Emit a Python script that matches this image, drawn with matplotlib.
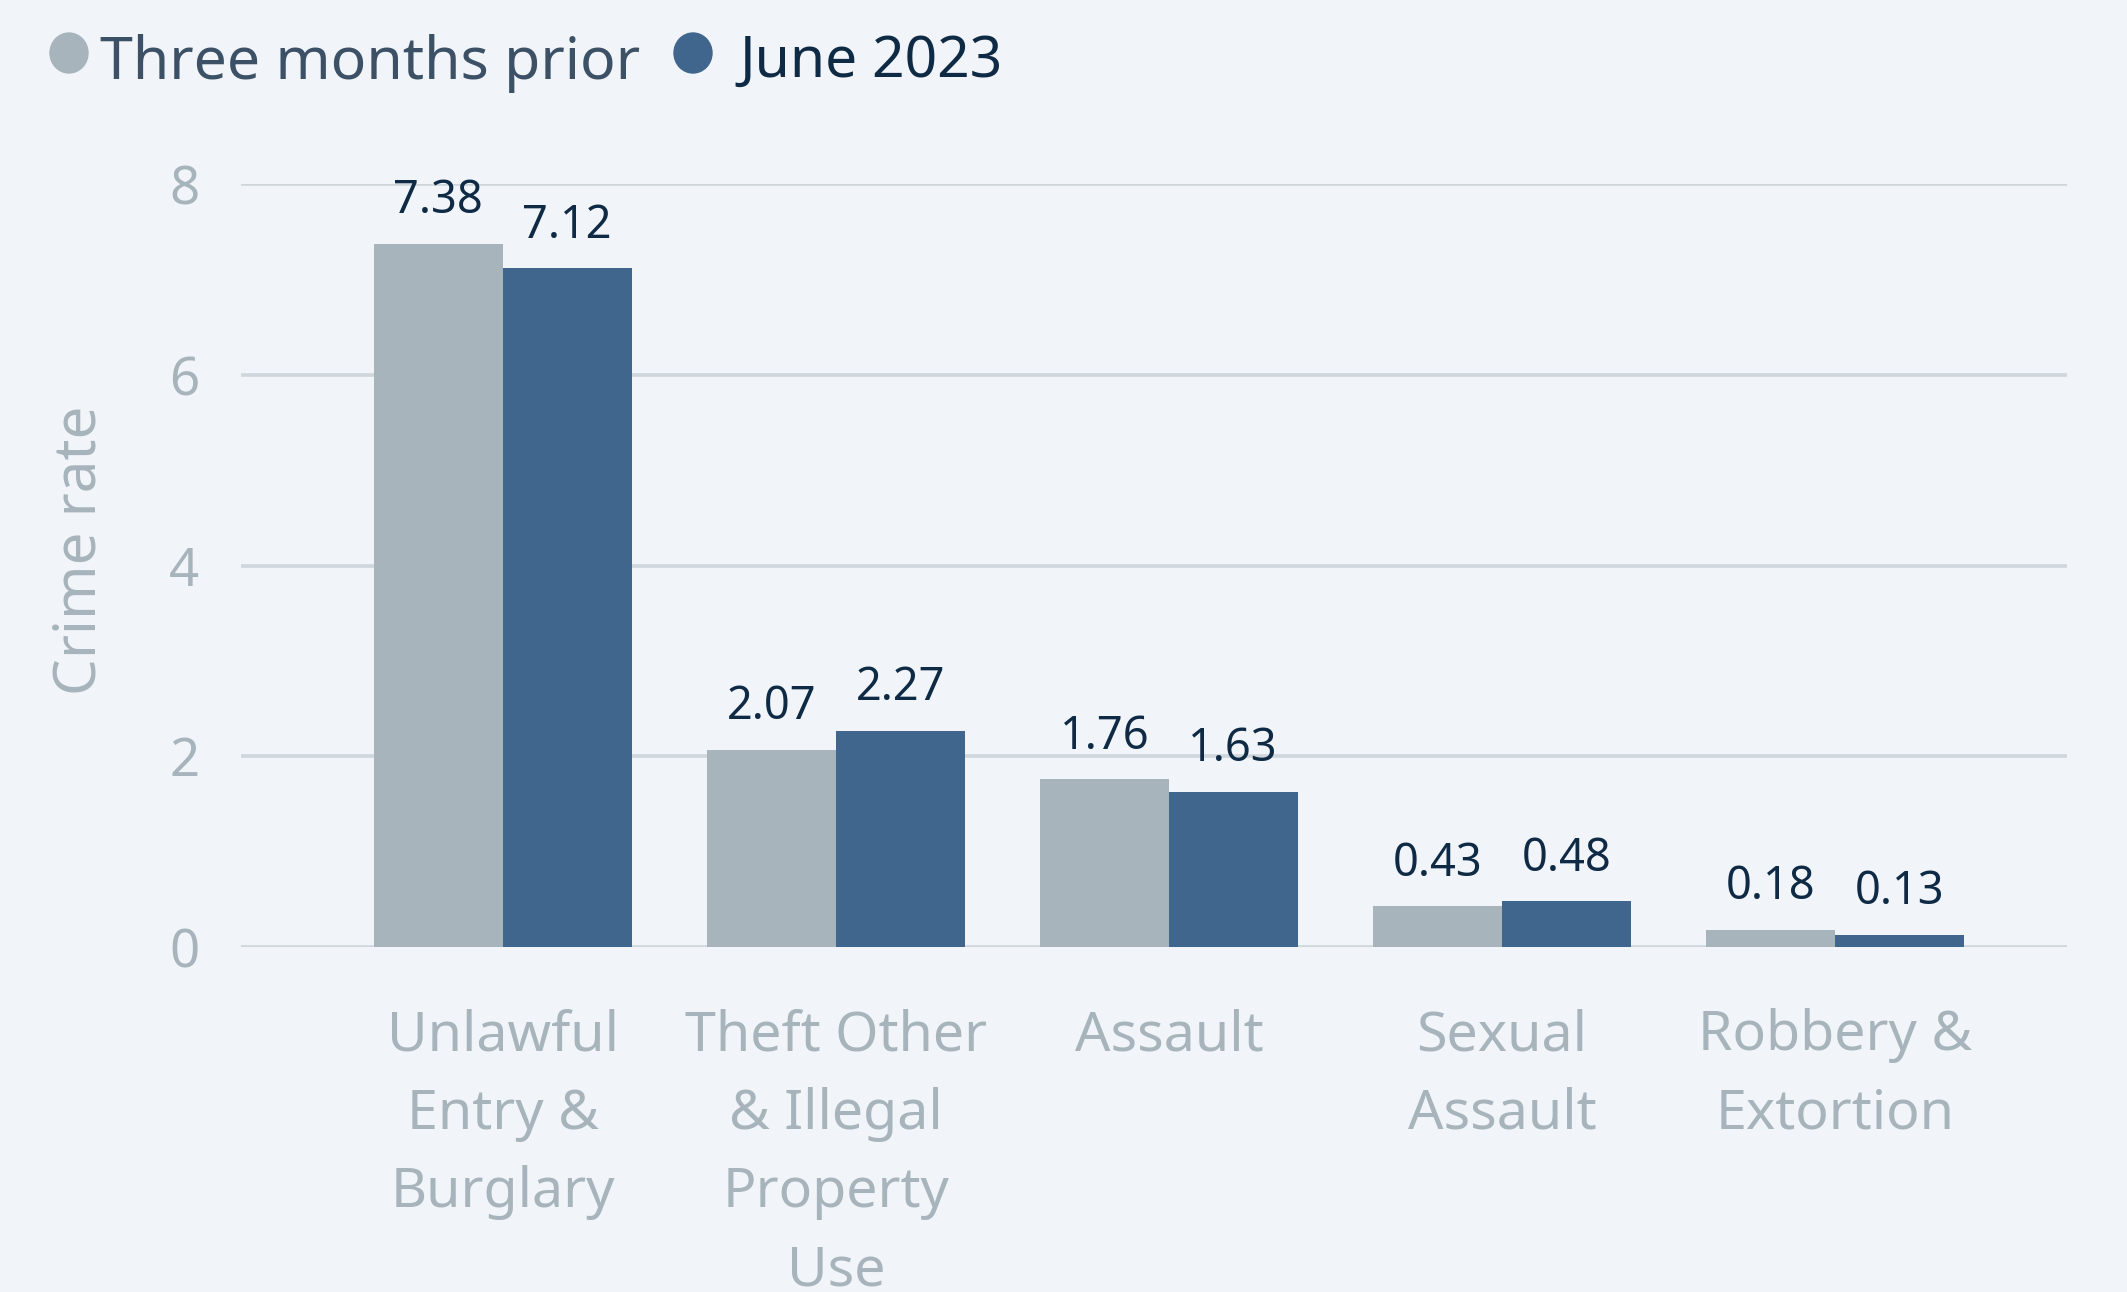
import matplotlib
matplotlib.use('Agg')
import matplotlib.pyplot as plt
from matplotlib.patches import Ellipse
import numpy as np

categories = ['Unlawful\nEntry &\nBurglary', 'Theft Other\n& Illegal\nProperty\nUse',
              'Assault', 'Sexual\nAssault', 'Robbery &\nExtortion']
prior = [7.38, 2.07, 1.76, 0.43, 0.18]
june = [7.12, 2.27, 1.63, 0.48, 0.13]
series_names = ['Three months prior', 'June 2023']
yticks = [0, 2, 4, 6, 8]

bg = '#f1f5f9'
gray = '#a7b4bb'
blue = '#41668e'
dark = '#0f2a44'
grid = '#cfd7dc'

plt.rcParams['font.family'] = ['Noto Sans', 'DejaVu Sans']

fig = plt.figure(figsize=(21.27, 12.92), dpi=100, facecolor=bg)
ax = fig.add_axes([0.1133, 0.267, 0.8585, 0.5902], facecolor=bg)

x = np.arange(len(categories))
w = 0.387
b1 = ax.bar(x - w / 2, prior, w, color=gray, zorder=3)
b2 = ax.bar(x + w / 2, june, w, color=blue, zorder=3)

for bars, vals in ((b1, prior), (b2, june)):
    for rect, v in zip(bars, vals):
        ax.annotate(f'{v:.2f}', (rect.get_x() + rect.get_width() / 2, v),
                    xytext=(0, 14), textcoords='offset points',
                    ha='center', va='bottom', fontsize=32.5, color=dark,
                    annotation_clip=False)

ax.set_xlim(-0.786, 4.697)
ax.set_ylim(0, 8)
ax.set_yticks(yticks)
ax.set_yticklabels([str(t) for t in yticks])
ax.set_xticks(x)
ax.set_xticklabels(categories, linespacing=1.56)
ax.yaxis.grid(True, color=grid, linewidth=2.6, zorder=0)
ax.set_axisbelow(True)
for s in ax.spines.values():
    s.set_visible(False)
ax.tick_params(axis='y', length=0, pad=30, labelsize=38, labelcolor=gray)
ax.tick_params(axis='x', length=0, pad=44, labelsize=40, labelcolor=gray)
ax.set_ylabel('Crime rate', fontsize=42, color=gray)
ax.yaxis.set_label_coords(-0.072, 0.52)

# legend drawn by hand
W, H = fig.get_size_inches() * fig.dpi
fig.patches.append(Ellipse((69 / W, 1 - 53 / H), 38 / W, 40 / H,
                           transform=fig.transFigure, color=gray))
fig.patches.append(Ellipse((693 / W, 1 - 53 / H), 38 / W, 40 / H,
                           transform=fig.transFigure, color=blue))
fig.text(100 / W, 1 - 79 / H, series_names[0], fontsize=42.5, color='#3d5166',
         va='baseline', ha='left')
fig.text(739 / W, 1 - 77 / H, series_names[1], fontsize=41, color=dark,
         va='baseline', ha='left')

fig.savefig('out.png', dpi=100, facecolor=bg)
